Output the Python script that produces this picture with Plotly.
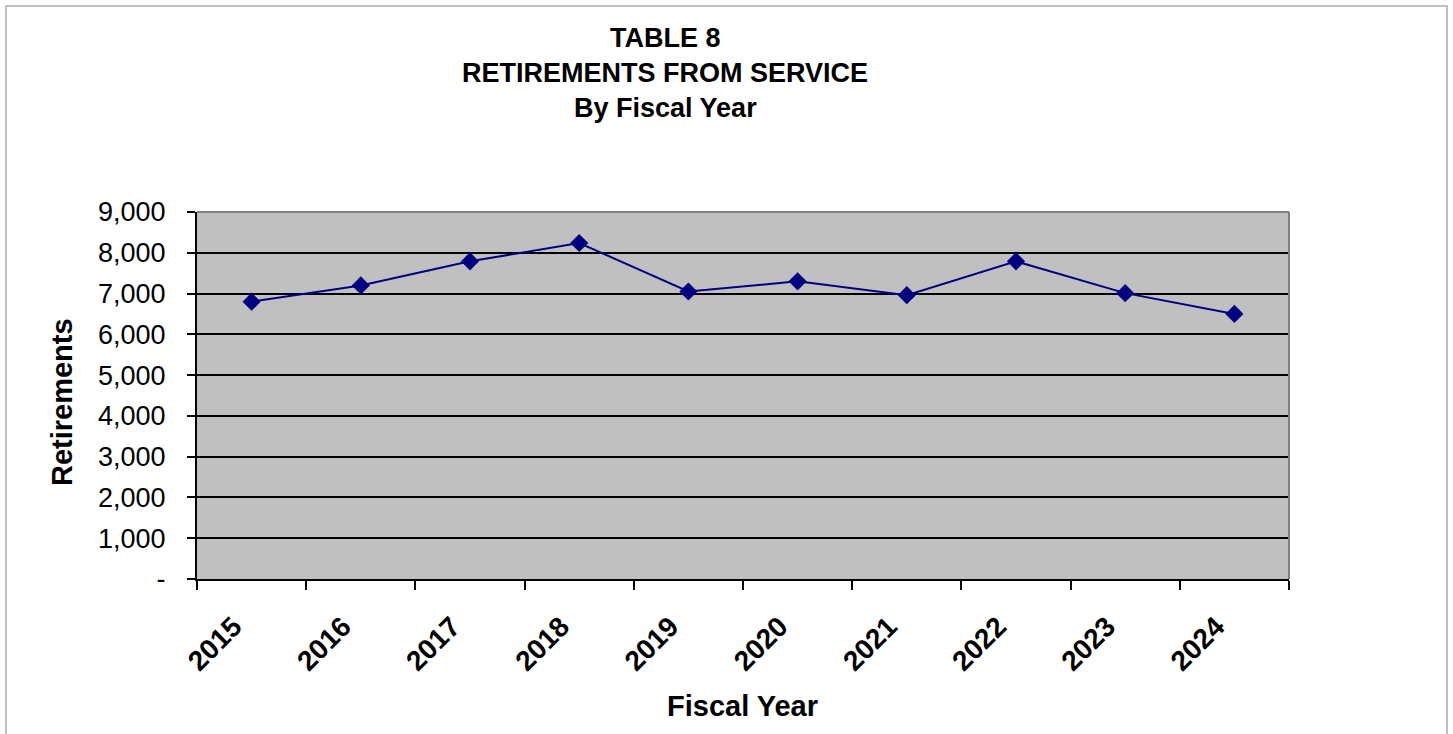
import plotly.graph_objects as go

years = ["2015", "2016", "2017", "2018", "2019", "2020", "2021", "2022", "2023", "2024"]
retirements = [6800, 7200, 7790, 8240, 7050, 7300, 6960, 7790, 7010, 6500]
y_tickvals = [0, 1000, 2000, 3000, 4000, 5000, 6000, 7000, 8000, 9000]
y_ticktext = ["-", "1,000", "2,000", "3,000", "4,000", "5,000", "6,000", "7,000", "8,000", "9,000"]
title_lines = ["TABLE 8", "RETIREMENTS FROM SERVICE", "By Fiscal Year"]

W, H = 1453, 734
L, R, T, B = 197, 164, 212, 155
pw, ph = W - L - R, H - T - B

def px(x):
    return (x - L) / pw

def py(y):
    return (H - B - y) / ph

FONT = "Liberation Sans, Arial, sans-serif"

fig = go.Figure()
fig.add_trace(go.Scatter(
    x=years, y=retirements, mode="lines+markers",
    line=dict(color="#000080", width=2),
    marker=dict(symbol="diamond", size=14, color="#000080"),
    showlegend=False, hoverinfo="x+y",
))

fig.update_layout(
    width=W, height=H,
    margin=dict(l=L, r=R, t=T, b=B, pad=0),
    paper_bgcolor="white",
    plot_bgcolor="#c0c0c0",
    font=dict(family=FONT, color="black"),
    xaxis=dict(
        type="category", showgrid=False, showline=True, linecolor="black", linewidth=2,
        ticks="outside", tickson="boundaries", ticklen=9, tickwidth=2, tickcolor="black",
        tickangle=-45, tickfont=dict(family=FONT, size=28, color="black", weight="bold"),
        range=[-0.5, 9.5], zeroline=False, ticklabelshift=-18, ticklabelstandoff=18,
    ),
    yaxis=dict(
        range=[0, 9000], tickvals=y_tickvals, ticktext=y_ticktext,
        showgrid=True, gridcolor="black", gridwidth=2,
        showline=True, linecolor="black", linewidth=2,
        ticks="outside", ticklen=8, tickwidth=2, tickcolor="black",
        tickfont=dict(family=FONT, size=27, color="black"),
        zeroline=False, ticklabelstandoff=16,
    ),
)

# plot area border (top/right gray)
fig.add_shape(type="line", xref="paper", yref="paper", x0=0, x1=1, y0=1, y1=1,
              line=dict(color="#808080", width=2), layer="above")
fig.add_shape(type="line", xref="paper", yref="paper", x0=1, x1=1, y0=0, y1=1,
              line=dict(color="#808080", width=2), layer="above")

# chart frame
fig.add_shape(type="rect", xref="paper", yref="paper",
              x0=px(6), x1=px(1447), y0=py(6), y1=py(745),
              line=dict(color="#c0c0c0", width=2), layer="below")

for txt, yy in zip(title_lines, [38, 73, 108]):
    fig.add_annotation(text=txt, xref="paper", yref="paper", x=px(665), y=py(yy),
                       showarrow=False, xanchor="center", yanchor="middle",
                       font=dict(family=FONT, size=27, color="black", weight="bold"))

fig.add_annotation(text="Fiscal Year", xref="paper", yref="paper", x=px(742), y=py(706),
                   showarrow=False, xanchor="center", yanchor="middle",
                   font=dict(family=FONT, size=29, color="black", weight="bold"))
fig.add_annotation(text="Retirements", xref="paper", yref="paper", x=px(62), y=py(402),
                   showarrow=False, xanchor="center", yanchor="middle", textangle=-90,
                   font=dict(family=FONT, size=29, color="black", weight="bold"))

fig.write_html("out.html", config={"displayModeBar": False},
               post_script="document.body.style.margin='0';document.body.style.overflow='hidden';")
